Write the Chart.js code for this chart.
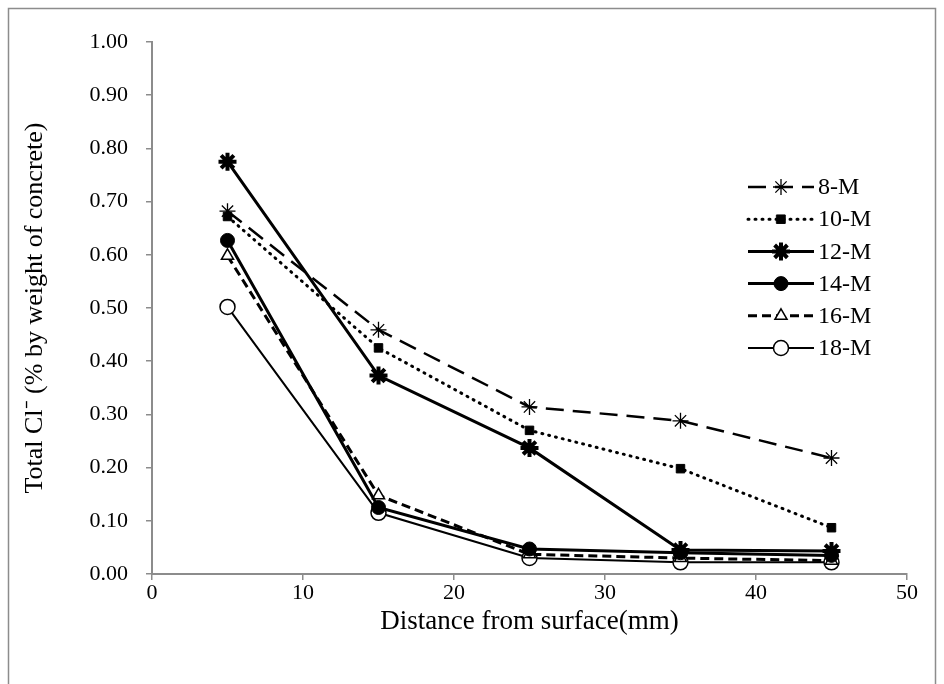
<!DOCTYPE html>
<html>
<head>
<meta charset="utf-8">
<script src="https://cdn.jsdelivr.net/npm/chart.js@4/dist/chart.umd.min.js"></script>
<style>
  html, body { margin: 0; padding: 0; background: #fff; }
  #wrap { width: 944px; height: 684px; }
</style>
</head>
<body>
<div id="wrap"><canvas id="c" width="944" height="684"></canvas></div>
<script>
// distance from surface (mm)
var distance = [5, 15, 25, 35, 45];

// total chloride, % by weight of concrete
var seriesNames = ['8-M', '10-M', '12-M', '14-M', '16-M', '18-M'];
var m8  = [0.682, 0.459, 0.314, 0.288, 0.218];
var m10 = [0.672, 0.425, 0.270, 0.198, 0.087];
var m12 = [0.775, 0.373, 0.237, 0.045, 0.043];
var m14 = [0.627, 0.125, 0.047, 0.040, 0.035];
var m16 = [0.598, 0.148, 0.037, 0.030, 0.025];
var m18 = [0.502, 0.115, 0.030, 0.022, 0.022];

var yTicksMin = 0, yTicksMax = 1, xTicksMin = 0, xTicksMax = 50;

var FONT = '"Liberation Serif", "Times New Roman", serif';

function pts(vals) {
  return vals.map(function (v, i) { return { x: distance[i], y: v }; });
}

var styles = [
  { dash: [18, 9], width: 2.5, point: 'star', radius: 8, pbw: 1.3, fill: '#fff', cap: 'butt' },
  { dash: [1, 6], width: 3, point: 'rect', radius: 6, pbw: 1, fill: '#000', cap: 'round' },
  { dash: [], width: 3, point: 'star', radius: 9, pbw: 4, fill: '#000', cap: 'butt' },
  { dash: [], width: 3, point: 'circle', radius: 7, pbw: 1, fill: '#000', cap: 'butt' },
  { dash: [9, 5], width: 3, point: 'triangle', radius: 7, pbw: 1.5, fill: '#fff', cap: 'butt' },
  { dash: [], width: 2, point: 'circle', radius: 7.5, pbw: 1.5, fill: '#fff', cap: 'butt' }
];
var values = [m8, m10, m12, m14, m16, m18];

var datasets = seriesNames.map(function (name, i) {
  var s = styles[i];
  return {
    label: name,
    data: pts(values[i]),
    borderColor: '#000',
    backgroundColor: s.fill,
    borderWidth: s.width,
    borderDash: s.dash,
    borderCapStyle: s.cap,
    pointStyle: s.point,
    pointRadius: s.radius,
    pointBorderWidth: s.pbw,
    pointBorderColor: '#000',
    pointBackgroundColor: s.fill,
    showLine: true,
    tension: 0
  };
});

// legend drawn by hand so each entry shows line style + marker
var lineLegend = {
  id: 'lineLegend',
  afterDatasetsDraw: function (chart) {
    var ctx = chart.ctx, a = chart.chartArea;
    var x0 = a.right - 159, y0 = a.top + 145, step = 32.2;
    chart.data.datasets.forEach(function (ds, i) {
      var y = y0 + i * step;
      ctx.save();
      ctx.strokeStyle = '#000';
      ctx.lineWidth = ds.borderWidth;
      ctx.setLineDash(ds.borderDash);
      ctx.lineCap = ds.borderCapStyle;
      ctx.beginPath();
      ctx.moveTo(x0, y);
      ctx.lineTo(x0 + 66, y);
      ctx.stroke();
      ctx.setLineDash([]);
      ctx.fillStyle = ds.pointBackgroundColor;
      ctx.lineWidth = ds.pointBorderWidth;
      Chart.helpers.drawPoint(ctx, {
        pointStyle: ds.pointStyle, rotation: 0,
        radius: ds.pointRadius, borderWidth: ds.pointBorderWidth
      }, x0 + 33, y);
      ctx.fillStyle = '#000';
      ctx.font = '24px ' + FONT;
      ctx.textBaseline = 'middle';
      ctx.fillText(ds.label, x0 + 70, y + 1);
      ctx.restore();
    });
  }
};

// outer frame of the figure
var frame = {
  id: 'frame',
  beforeDraw: function (chart) {
    var ctx = chart.ctx;
    ctx.save();
    ctx.fillStyle = '#fff';
    ctx.fillRect(0, 0, chart.width, chart.height);
    ctx.strokeStyle = '#8c8c8c';
    ctx.lineWidth = 1.5;
    ctx.beginPath();
    ctx.moveTo(8.5, chart.height + 5);
    ctx.lineTo(8.5, 8.5);
    ctx.lineTo(935.5, 8.5);
    ctx.lineTo(935.5, chart.height + 5);
    ctx.stroke();
    ctx.restore();
  }
};

new Chart(document.getElementById('c'), {
  type: 'scatter',
  data: { datasets: datasets },
  plugins: [frame, lineLegend],
  options: {
    responsive: false,
    animation: false,
    layout: { padding: { left: 20, right: 37, top: 42, bottom: 46 } },
    plugins: { legend: { display: false }, tooltip: { enabled: false } },
    scales: {
      x: {
        type: 'linear',
        min: xTicksMin, max: xTicksMax,
        ticks: { stepSize: 10, color: '#000', font: { family: FONT, size: 22 }, padding: 0 },
        grid: { drawOnChartArea: false, tickLength: 6, color: '#8c8c8c', lineWidth: 1.5 },
        border: { color: '#8c8c8c', width: 2 },
        title: { display: true, text: 'Distance from surface(mm)', color: '#000', font: { family: FONT, size: 27 }, padding: { top: 0, bottom: 0 } },
        afterFit: function (s) { s.height = 64; }
      },
      y: {
        min: yTicksMin, max: yTicksMax,
        ticks: {
          stepSize: 0.05, color: '#000', font: { family: FONT, size: 22 }, padding: 18,
          callback: function (v) {
            var k = Math.round(v * 100);
            return k % 10 === 0 ? (k / 100).toFixed(2) : '';
          }
        },
        grid: { drawOnChartArea: false, tickLength: 6, color: '#8c8c8c', lineWidth: 1.5 },
        border: { color: '#8c8c8c', width: 2 },
        title: { display: true, text: 'Total Cl\u207B (% by weight of concrete)', color: '#000', font: { family: FONT, size: 26 }, padding: { top: 0, bottom: 0 } },
        afterFit: function (s) { s.width = 132; }
      }
    }
  }
});
</script>
</body>
</html>
